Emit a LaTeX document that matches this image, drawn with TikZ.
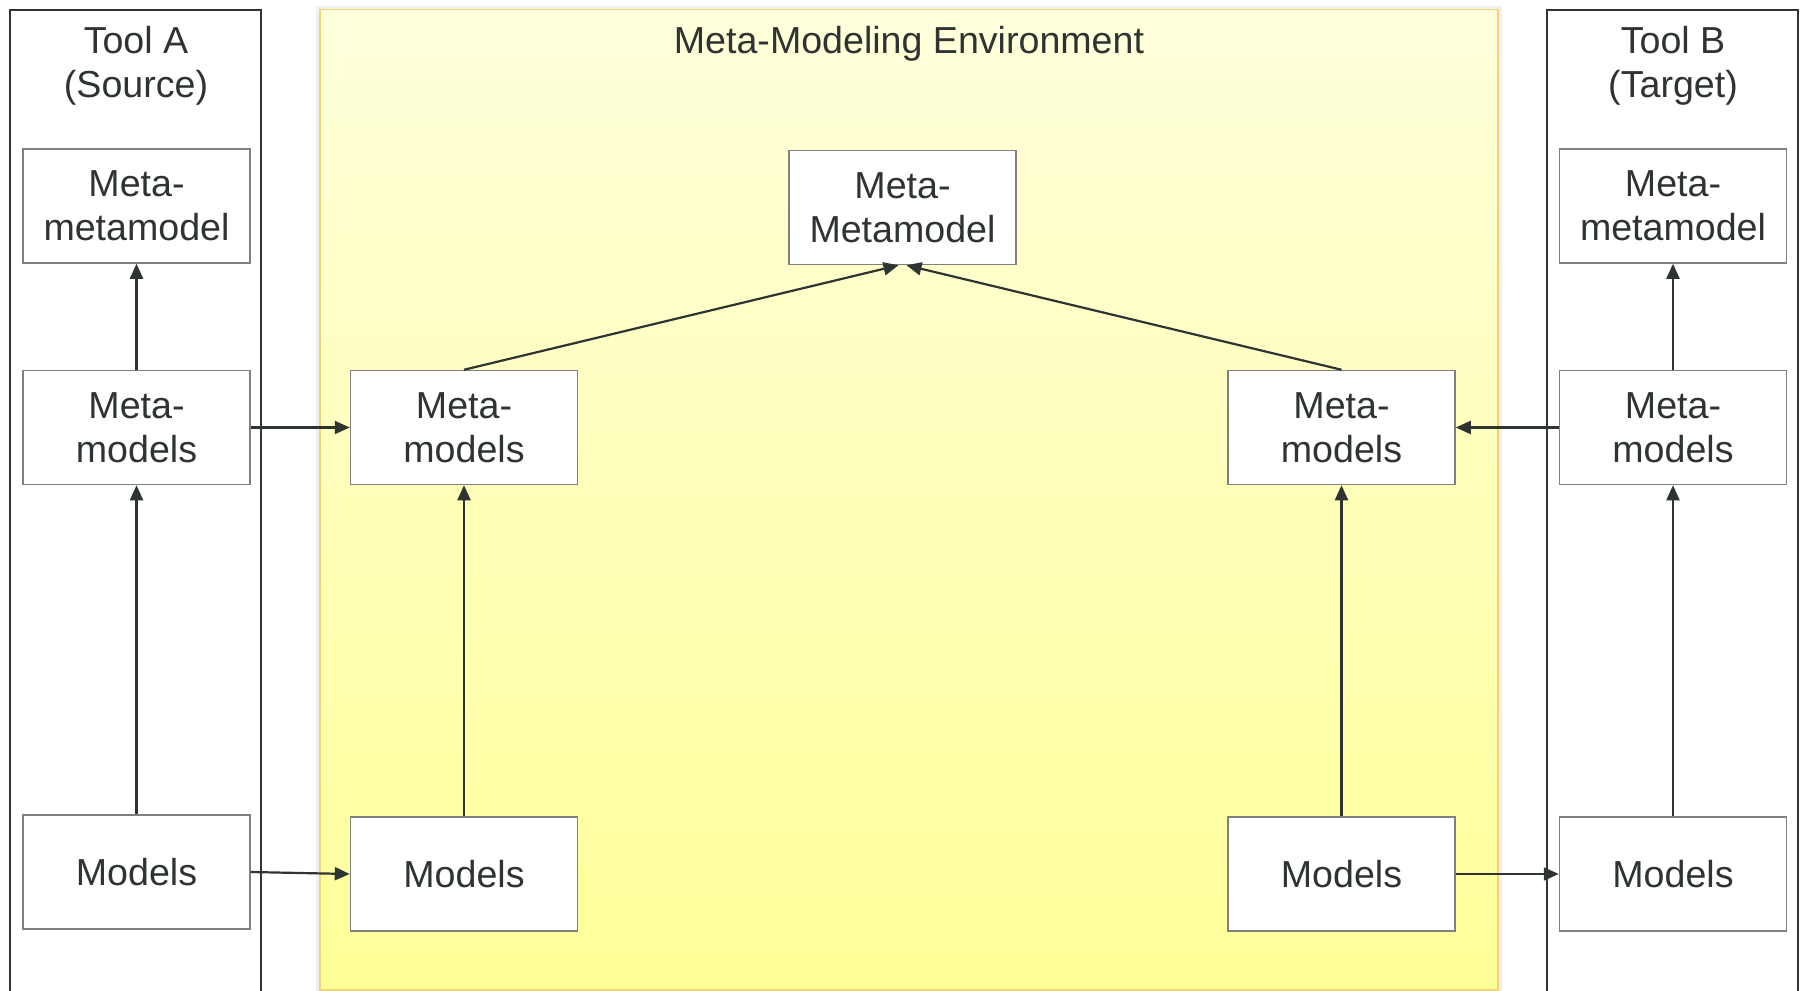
\documentclass[tikz,border=0pt]{standalone}
\usepackage{fontspec}
\setmainfont{Liberation Sans}
\usetikzlibrary{arrows.meta}
\definecolor{ink}{HTML}{2E3431}
\definecolor{boxline}{HTML}{808080}
\definecolor{envtop}{HTML}{FFFFDC}
\definecolor{envbot}{HTML}{FFFF98}
\definecolor{envline}{HTML}{F3D56F}

\begin{document}
\begin{tikzpicture}[x=0.5pt,y=-0.5pt,
  font=\fontsize{18.8pt}{22pt}\selectfont,
  model/.style={draw=boxline, line width=0.75pt, fill=white, text=ink,
    align=center, minimum width=113.5pt, minimum height=57pt, inner sep=0pt},
  label/.style={text=ink, align=center, inner sep=0pt},
  link/.style={draw=ink, line width=1.1pt, -{Triangle[length=7.5pt,width=6.5pt]}},
  toolframe/.style={draw=ink, line width=1pt, fill=white}]
\useasboundingbox (0,0) rectangle (1806,991);

% swimlanes
\draw[toolframe] (9.5,9.5) rectangle (261,1000);
\draw[black!6, line width=2pt] (318,7.5) rectangle (1500,992);
\shade[top color=envtop, bottom color=envbot, draw=envline, line width=0.9pt]
  (320,9.5) rectangle (1498,990);
\draw[toolframe] (1547,9.5) rectangle (1798,1000);

% lane titles
\node[label] (titleA) at (136,66) {Tool A\\(Source)};
\node[label] (titleEnv) at (909,44) {Meta-Modeling Environment};
\node[label] (titleB) at (1673,66) {Tool B\\(Target)};

% Tool A
\node[model] (Ammm) at (136.5,206) {Meta-\\metamodel};
\node[model] (Amm)  at (136.5,427.5) {Meta-\\models};
\node[model] (Am)   at (136.5,872) {Models};

% environment
\node[model] (Cmmm) at (902.5,207.5) {Meta-\\Metamodel};
\node[model] (Lmm)  at (464,427.5) {Meta-\\models};
\node[model] (Lm)   at (464,874) {Models};
\node[model] (Rmm)  at (1341.5,427.5) {Meta-\\models};
\node[model] (Rm)   at (1341.5,874) {Models};

% Tool B
\node[model] (Bmmm) at (1673,206) {Meta-\\metamodel};
\node[model] (Bmm)  at (1673,427.5) {Meta-\\models};
\node[model] (Bm)   at (1673,874) {Models};

% instance-of relations
\draw[link] (Am) -- (Amm);
\draw[link] (Amm) -- (Ammm);
\draw[link] (Bm) -- (Bmm);
\draw[link] (Bmm) -- (Bmmm);
\draw[link] (Lm) -- (Lmm);
\draw[link] (Rm) -- (Rmm);
\draw[link] (Lmm.north) -- ([xshift=-2pt]Cmmm.south);
\draw[link] (Rmm.north) -- ([xshift=2pt]Cmmm.south);

% transfers between tools and environment
\draw[link] (Amm) -- (Lmm);
\draw[link] (Am.east) -- (Lm.west);
\draw[link] (Bmm) -- (Rmm);
\draw[link] (Rm) -- (Bm);
\end{tikzpicture}
\end{document}
